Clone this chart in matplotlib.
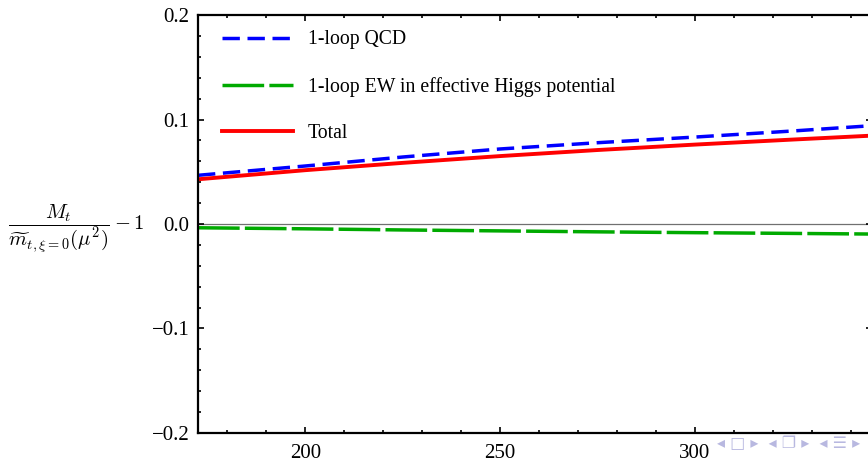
import matplotlib
matplotlib.use("Agg")
import matplotlib.pyplot as plt
from matplotlib.ticker import MultipleLocator

plt.rcParams['font.family'] = ['Liberation Serif', 'DejaVu Serif']
plt.rcParams['mathtext.fontset'] = 'cm'

# top mass scale (GeV) and relative corrections
mt = [172.5, 200, 225, 250, 275, 300, 325, 345]
qcd = [0.0466, 0.0555, 0.0641, 0.0718, 0.0778, 0.0832, 0.0890, 0.0940]
ew = [-0.0036, -0.0046, -0.0057, -0.0066, -0.0075, -0.0083, -0.0090, -0.0096]
total = [0.0428, 0.0515, 0.0585, 0.0650, 0.0708, 0.0760, 0.0808, 0.0845]

labels = ['1-loop QCD', '1-loop EW in effective Higgs potential', 'Total']

fig = plt.figure(figsize=(8.68, 4.62), dpi=100)
ax = fig.add_axes([0.2281, 0.0628, 0.7765, 0.9047])

ax.axhline(0.0, color='#707070', lw=0.9, zorder=1)
ax.plot(mt, qcd, color='#0000ff', lw=2.5, dashes=(5.0, 2.2), label=labels[0])
ax.plot(mt, ew, color='#00aa00', lw=2.5, dashes=(12, 1.5), label=labels[1])
ax.plot(mt, total, color='#ff0000', lw=2.8, label=labels[2])

ax.set_xlim(172.5, 345.4)
ax.set_ylim(-0.2, 0.2)
ax.xaxis.set_major_locator(MultipleLocator(50))
ax.xaxis.set_minor_locator(MultipleLocator(10))
ax.yaxis.set_major_locator(MultipleLocator(0.1))
ax.yaxis.set_minor_locator(MultipleLocator(0.02))
ax.yaxis.set_major_formatter(plt.FuncFormatter(lambda v, p: f"{v:.1f}".replace('-', '\u2212')))
ax.tick_params(which='both', direction='in', top=True, right=True, labelsize=15, width=1.2)
ax.tick_params(which='major', length=4.5, pad=6)
ax.tick_params(axis='x', which='major', pad=8)
ax.tick_params(which='minor', length=2.5)
for s in ax.spines.values():
    s.set_linewidth(1.6)

ax.set_ylabel(r'$\dfrac{M_t}{\widetilde{m}_{t,\xi=0}(\mu^2)}-1$', rotation=0, fontsize=14.8)
ax.yaxis.set_label_coords(-0.18, 0.425)

ax.legend(loc='upper left', bbox_to_anchor=(0.036, 0.963), borderaxespad=0, borderpad=0,
          frameon=False, fontsize=14.2, handlelength=3.6, handletextpad=0.75, labelspacing=1.39)

# beamer navigation symbols
fig.text(0.826, 0.040, '\u25c2 \u25a1 \u25b8  \u25c2 \u2750 \u25b8  \u25c2 \u2630 \u25b8',
         color='#b8b8e0', fontsize=11.5, family=['DejaVu Sans'], va='center')

fig.savefig('out.png', dpi=100)
